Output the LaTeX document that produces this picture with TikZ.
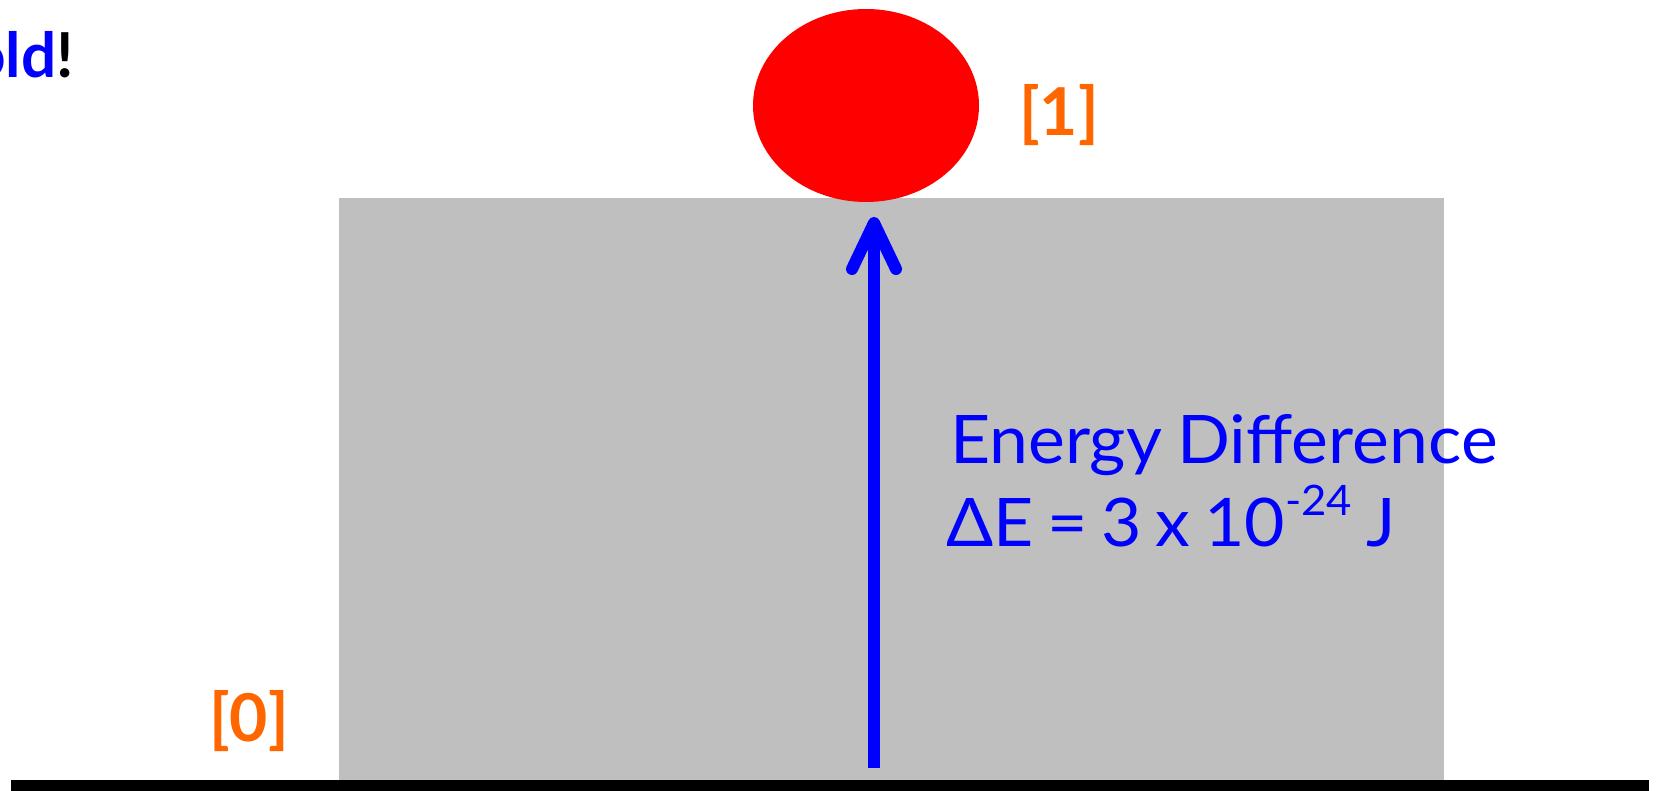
\documentclass[tikz,border=0pt]{standalone}
\usepackage{fontspec}
\setmainfont{Lato}
\newfontfamily\energyfont[FakeStretch=1.04]{Lato}
\newfontfamily\energyfonttight[FakeStretch=1.04,WordSpace=0.88]{Lato}
\usetikzlibrary{arrows.meta,shapes.geometric}
\definecolor{ballred}{HTML}{FF0000}
\definecolor{slab}{HTML}{BFBFBF}
\definecolor{lvl}{HTML}{FF6600}
\definecolor{pureblue}{HTML}{0000FF}
\tikzset{
  level label/.style={text=lvl, font=\fontsize{66}{72}\selectfont\bfseries, inner sep=0pt},
  energy text/.style={text=pureblue, font=\energyfont\fontsize{67}{80}\selectfont, inner sep=0pt},
  up arrow/.style={draw=pureblue, line width=12pt,
    -{Straight Barb[length=46pt,width=44pt,round]}},
}
\begin{document}
\begin{tikzpicture}[x=1pt,y=-1pt]
\useasboundingbox (0,0) rectangle (1661,791);
% slab
\fill[slab] (339,198) rectangle (1444,780);
% ground line
\fill[black] (11,780) rectangle (1649,791);
% ball
\node[ellipse, fill=ballred, minimum width=226pt, minimum height=193pt, inner sep=0pt] (ball) at (866,105.5) {};
% labels
\node[level label, anchor=base west] (l1) at (1019,136) {[1]};
\node[level label, anchor=base west] (l0) at (209,741) {[0]};
\node[anchor=base east, inner sep=0pt, font=\fontsize{62}{70}\selectfont\bfseries] (title) at (74,78) {\textcolor{pureblue}{old}\textcolor{black}{!}};
% energy text
\node[energy text, anchor=base west] (e1) at (950,463) {Energy Difference};
\node[energy text, font=\energyfonttight\fontsize{67}{80}\selectfont, anchor=base west] (e2) at (946,546) {ΔE = 3 x 10\raisebox{0.45em}{\fontsize{42}{48}\selectfont -24} J};
% arrow
\coordinate (base) at (874,768);
\coordinate (tip) at (874,217);
\draw[up arrow] (base) -- (tip);
\end{tikzpicture}
\end{document}
